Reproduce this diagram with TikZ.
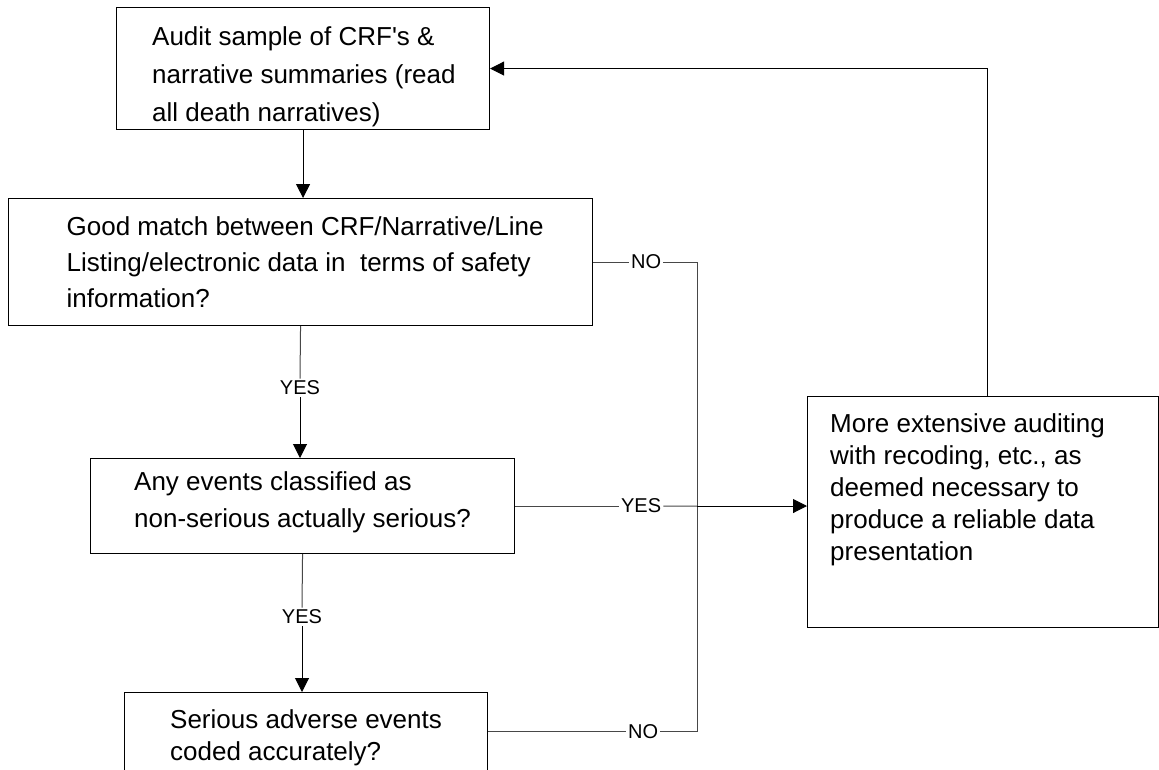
\documentclass[tikz,border=0pt]{standalone}
\usepackage{fontspec}
\newfontfamily\arialfont{Liberation Sans}
\usetikzlibrary{arrows.meta,calc}
\begin{document}
\begin{tikzpicture}[x=1pt,y=-1pt,
  box/.style={draw=black, line width=1.1pt, anchor=north west, inner sep=0pt},
  txt/.style={anchor=north west, inner sep=0pt, align=left},
  conn/.style={draw=black!72, line width=1pt},
  arr/.style={-{Triangle[length=14pt,width=14pt]}, draw=black},
  lbl/.style={fill=white, inner sep=2pt, font=\arialfont\fontsize{20}{24}\selectfont}
]
\useasboundingbox (0,0) rectangle (1159,769);
\clip (0,0) rectangle (1159,769);

% boxes
\node[box, minimum width=373pt, minimum height=122pt] (b1) at (116,7) {};
\node[box, minimum width=584pt, minimum height=127pt] (b2) at (8,198) {};
\node[box, minimum width=424pt, minimum height=95pt]  (b3) at (90,458) {};
\node[box, minimum width=363pt, minimum height=78pt]  (b4) at (124,692) {};
\node[box, minimum width=351pt, minimum height=231pt] (b5) at (807,396) {};

% box texts
\node[txt, font=\arialfont\fontsize{26}{38}\selectfont] (t1) at ($(b1.north west)+(36,11.4)$)
  {\strut Audit sample of CRF's \&\\narrative summaries (read\\all death narratives)};
\node[txt, font=\arialfont\fontsize{26}{36}\selectfont] (t2) at ($(b2.north west)+(58.5,11.8)$)
  {\strut Good match between CRF/Narrative/Line\\Listing/electronic data in\ \ terms of safety\\information?};
\node[txt, font=\arialfont\fontsize{26}{37}\selectfont] (t3) at ($(b3.north west)+(44,6)$)
  {\strut Any events classified as\\non-serious actually serious?};
\node[txt, font=\arialfont\fontsize{26}{32}\selectfont] (t4) at ($(b4.north west)+(46,13.6)$)
  {\strut Serious adverse events\\coded accurately?};
\node[txt, font=\arialfont\fontsize{26}{32}\selectfont] (t5) at ($(b5.north west)+(23,13.6)$)
  {\strut More extensive auditing\\with recoding, etc., as\\deemed necessary to\\produce a reliable data\\presentation};

% branch labels
\node[lbl] (y1) at (300,388) {YES};
\node[lbl] (y2) at (302,617) {YES};
\node[lbl] (n1) at ($(b2.east)+(53,0)$) {NO};
\node[lbl] (y3) at ($(b3.east)+(126,0)$) {YES};
\node[lbl] (n2) at ($(b4.east)+(155,0)$) {NO};
\coordinate (jx) at (697,506);

% main flow
\draw[conn, arr] (b1.south) -- (b1.south |- b2.north);
\draw[conn] (b2.south) -- (y1.north);
\draw[conn, arr] (y1.south) -- (y1.south |- b3.north);
\draw[conn] (b3.south) -- (y2.north);
\draw[conn, arr] (y2.south) -- (y2.south |- b4.north);

% branches towards the auditing box
\draw[conn] (b2.east) -- (n1.west);
\draw[conn] (n1.east) -| (jx);
\draw[conn] (b4.east) -- (n2.west);
\draw[conn] (n2.east) -| (jx);
\draw[conn] (b3.east) -- (y3.west);
\draw[conn] (y3.east) -- (jx);
\draw[conn, arr] (jx) -- (jx -| b5.west);

% loop back to the audit sample
\draw[conn, arr] ($(b5.north)+(4,0)$) |- (b1.east);
\end{tikzpicture}
\end{document}
